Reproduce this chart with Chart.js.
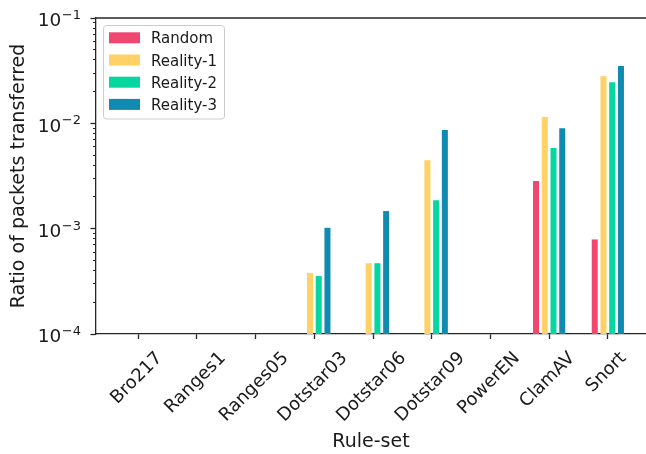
<!DOCTYPE html>
<html>
<head>
<meta charset="utf-8">
<script src="https://cdn.jsdelivr.net/npm/chart.js@4/dist/chart.umd.min.js"></script>
<style>
  html, body { margin: 0; padding: 0; background: #fff; overflow: hidden; }
</style>
</head>
<body>
<canvas id="chart" width="646" height="454"></canvas>
<script>
// --- Data ---
const ruleSets = ['Bro217', 'Ranges1', 'Ranges05', 'Dotstar03', 'Dotstar06', 'Dotstar09', 'PowerEN', 'ClamAV', 'Snort'];
const seriesNames = ['Random', 'Reality-1', 'Reality-2', 'Reality-3'];
const seriesColors = ['#ef476f', '#ffd166', '#06d6a0', '#118ab2'];

const randomVals   = [null, null, null, null,    null,    null,    null, 2.83e-3, 7.9e-4];
const reality1Vals = [null, null, null, 3.8e-4,  4.7e-4,  4.47e-3, null, 1.15e-2, 2.8e-2];
const reality2Vals = [null, null, null, 3.55e-4, 4.7e-4,  1.86e-3, null, 5.84e-3, 2.46e-2];
const reality3Vals = [null, null, null, 1.02e-3, 1.47e-3, 8.65e-3, null, 9.0e-3,  3.5e-2];

const yTicks = [1e-4, 1e-3, 1e-2, 1e-1];
const yTickExps = ['\u22124', '\u22123', '\u22122', '\u22121'];

const allSeries = [randomVals, reality1Vals, reality2Vals, reality3Vals];

const FONT = "'DejaVu Sans', sans-serif";
const INK = '#1a1a1a';
Chart.defaults.font.family = FONT;
Chart.defaults.color = INK;

// --- Text drawn by hand: tick labels, top spine, legend box ---
const extrasPlugin = {
    id: 'extras',
    afterDraw(chart) {
        const ctx = chart.ctx;
        const area = chart.chartArea;
        const xs = chart.scales.x;
        const ys = chart.scales.y;
        ctx.save();

        // top spine
        ctx.strokeStyle = '#262626';
        ctx.lineWidth = 1.3;
        ctx.beginPath();
        ctx.moveTo(area.left - 0.65, area.top);
        ctx.lineTo(area.right, area.top);
        ctx.stroke();

        // y tick labels: 10 with superscript exponent
        ctx.fillStyle = INK;
        ctx.textBaseline = 'alphabetic';
        yTicks.forEach((v, i) => {
            const y = ys.getPixelForValue(v);
            ctx.font = '13px ' + FONT;
            const wSup = ctx.measureText(yTickExps[i]).width;
            const right = 81;
            ctx.textAlign = 'left';
            ctx.fillText(yTickExps[i], right - wSup, y + 1);
            ctx.font = '18.5px ' + FONT;
            ctx.textAlign = 'right';
            ctx.fillText('10', right - wSup - 0.5, y + 8.3);
        });

        // x tick labels, rotated 45 and centred under the tick
        ctx.font = '18px ' + FONT;
        ctx.textAlign = 'center';
        ctx.textBaseline = 'middle';
        const h = 1.164 * 18;
        ruleSets.forEach((name, i) => {
            const px = xs.getPixelForValue(i);
            const w = ctx.measureText(name).width;
            const half = (w + h) * Math.SQRT1_2 / 2;
            ctx.save();
            ctx.translate(px - 1.5, 348 + half);
            ctx.rotate(-Math.PI / 4);
            ctx.fillText(name, 0, 0);
            ctx.restore();
        });

        // legend
        const lx = 103.5, ly = 25.5, lw = 121, lh = 93.5;
        ctx.fillStyle = 'rgba(255,255,255,0.8)';
        ctx.strokeStyle = '#cccccc';
        ctx.lineWidth = 1;
        ctx.beginPath();
        ctx.roundRect(lx, ly, lw, lh, 3);
        ctx.fill();
        ctx.stroke();
        ctx.font = '15px ' + FONT;
        ctx.textAlign = 'left';
        ctx.textBaseline = 'alphabetic';
        chart.data.datasets.forEach((ds, i) => {
            const top = 32.3 + i * 22.2;
            ctx.fillStyle = ds.backgroundColor;
            ctx.fillRect(109, top, 31, 11);
            ctx.fillStyle = INK;
            ctx.fillText(ds.label, 151, top + 11);
        });

        ctx.restore();
    }
};

const datasets = seriesNames.map((name, s) => ({
    label: name,
    data: allSeries[s].map((v, i) => ({ x: i, y: v })),
    backgroundColor: seriesColors[s],
    borderWidth: 0,
    categoryPercentage: 0.595,
    barPercentage: 0.69
}));

new Chart(document.getElementById('chart'), {
    type: 'bar',
    data: { datasets },
    plugins: [extrasPlugin],
    options: {
        responsive: false,
        animation: false,
        layout: { padding: { left: 0, top: 18, right: 0, bottom: 0 } },
        plugins: { legend: { display: false }, tooltip: { enabled: false } },
        scales: {
            x: {
                type: 'linear',
                position: 'bottom',
                min: -0.72,
                max: 8.65,
                offset: false,
                afterBuildTicks: axis => { axis.ticks = ruleSets.map((_, i) => ({ value: i })); },
                afterFit: axis => { axis.height = 120; },
                ticks: { display: false },
                grid: { drawOnChartArea: false, offset: false, tickLength: 5, tickWidth: 1.3, tickColor: '#262626' },
                border: { color: '#262626', width: 1.3 },
                title: { display: true, text: 'Rule-set', font: { size: 19 }, color: INK, padding: { top: 0, bottom: 1 } }
            },
            y: {
                type: 'logarithmic',
                position: 'left',
                weight: 1,
                min: 1e-4,
                max: 1e-1,
                afterBuildTicks: axis => { axis.ticks = yTicks.map(v => ({ value: v })); },
                afterFit: axis => { axis.width = 96; },
                ticks: { display: false },
                grid: { drawOnChartArea: false, tickLength: 5.5, tickWidth: 1.3, tickColor: '#262626' },
                border: { color: '#262626', width: 1.3 },
                title: { display: true, text: 'Ratio of packets transferred', font: { size: 19 }, color: INK, padding: { top: 8, bottom: 0 } }
            },
            yMinor: {
                type: 'logarithmic',
                position: 'left',
                weight: 0,
                min: 1e-4,
                max: 1e-1,
                afterBuildTicks: axis => {
                    const minor = [];
                    yTicks.slice(0, -1).forEach(d => { for (let k = 2; k <= 9; k++) minor.push({ value: k * d }); });
                    axis.ticks = minor;
                },
                afterFit: axis => { axis.width = 0; },
                ticks: { display: false },
                grid: { drawOnChartArea: false, tickLength: 3, tickWidth: 1, tickColor: '#262626' },
                border: { display: false }
            }
        }
    }
});
</script>
</body>
</html>
